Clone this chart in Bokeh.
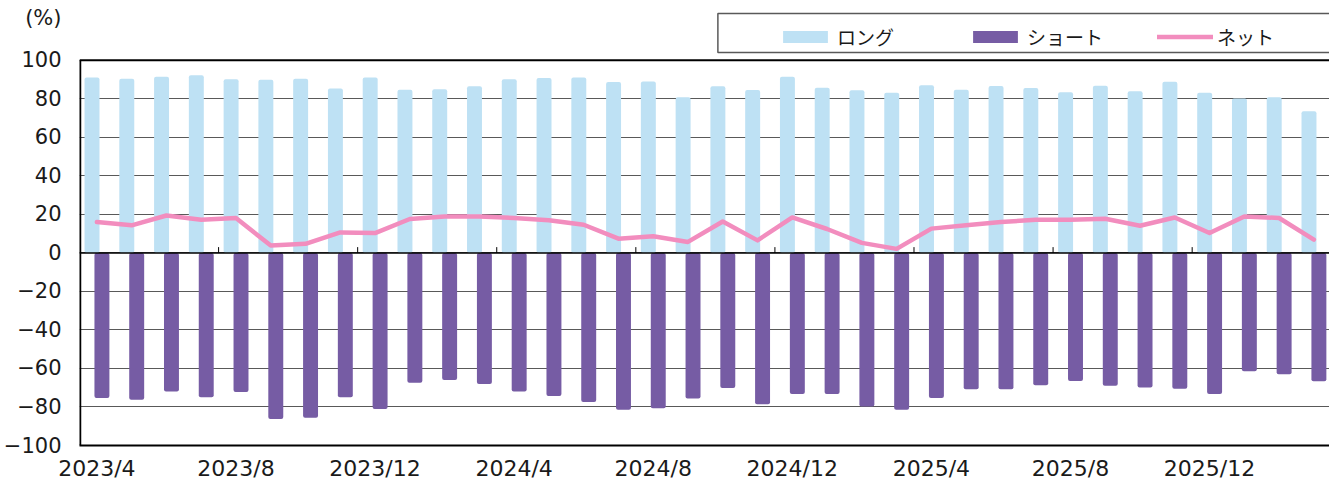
import numpy as np
from bokeh.plotting import figure
from bokeh.models import (ColumnDataSource, Range1d, FixedTicker, Span, Legend,
                          LegendItem, BoxAnnotation)
from bokeh.transform import dodge
from bokeh.embed import file_html
from bokeh.resources import INLINE

months = ["2023/4", "2023/5", "2023/6", "2023/7", "2023/8", "2023/9", "2023/10", "2023/11",
          "2023/12", "2024/1", "2024/2", "2024/3", "2024/4", "2024/5", "2024/6", "2024/7",
          "2024/8", "2024/9", "2024/10", "2024/11", "2024/12", "2025/1", "2025/2", "2025/3",
          "2025/4", "2025/5", "2025/6", "2025/7", "2025/8", "2025/9", "2025/10", "2025/11",
          "2025/12", "2026/1", "2026/2", "2026/3"]
long_pct = [91.1, 90.4, 91.5, 92.2, 90.1, 89.9, 90.4, 85.4, 91.1, 84.7, 84.9, 86.5,
            90.1, 90.8, 91.1, 88.7, 89.0, 80.8, 86.5, 84.6, 91.5, 85.8, 84.4, 83.2,
            87.0, 84.7, 86.6, 85.6, 83.4, 86.8, 83.9, 88.9, 83.2, 80.1, 80.8, 73.5]
short_pct = [-75.3, -76.2, -71.9, -74.9, -72.2, -86.3, -85.6, -74.9, -81.1, -67.4, -66.0, -68.1,
             -71.9, -74.3, -77.4, -81.5, -80.6, -75.6, -70.1, -78.6, -73.2, -73.2, -79.8, -81.5,
             -75.3, -70.8, -70.8, -68.7, -66.5, -69.0, -69.9, -70.5, -73.2, -61.5, -63.0, -66.7]
net_pct = [16.0, 14.3, 19.4, 17.2, 18.1, 3.8, 4.7, 10.6, 10.3, 17.6, 18.9, 18.9,
           18.1, 16.9, 14.6, 7.4, 8.6, 5.7, 16.3, 6.5, 18.4, 12.4, 5.2, 2.1,
           12.6, 14.3, 16.0, 17.2, 17.2, 17.7, 14.1, 18.4, 10.3, 18.9, 18.1, 6.9]
series_names = ["ロング", "ショート", "ネット"]
y_ticks = [-100, -80, -60, -40, -20, 0, 20, 40, 60, 80, 100]
unit_label = "(%)"
label_every = 4

FONT = "Noto Sans CJK JP"
NUM_FONT = "DejaVu Sans"
LONG_C = "#BEE1F4"
SHORT_C = "#765CA4"
NET_C = "#F28DBE"
TXT = "#1a1a1a"

n = len(months)
xs = [i + 0.5 for i in range(n)]
src = ColumnDataSource(dict(x=xs, month=months, long=long_pct, short=short_pct, net=net_pct))

# frame reaches up to the legend row; the value scale stays -100..100 below it
Y_TOP = 127.4
UNIT_POS = 122.0
X_END = 35.95

p = figure(width=1329, height=483, output_backend="svg", toolbar_location=None,
           x_range=Range1d(0, X_END), y_range=Range1d(y_ticks[0], Y_TOP),
           min_border_left=78, min_border_right=0, min_border_top=7, min_border_bottom=36)
p.outline_line_color = None

r_long = p.vbar(x=dodge("x", -0.14), top="long", bottom=0, width=0.43, source=src,
                fill_color=LONG_C, line_color=None, border_radius=2)
r_short = p.vbar(x=dodge("x", 0.145), top=0, bottom="short", width=0.43, source=src,
                 fill_color=SHORT_C, line_color=None, border_radius=2)
r_net = p.line("x", "net", source=src, line_color=NET_C, line_width=4.5,
               line_join="round", line_cap="round")

bounds = list(range(label_every, n, label_every))
p.segment(x0=bounds, y0=[0] * len(bounds), x1=bounds, y1=[3] * len(bounds),
          line_color="black", line_width=1)

# left axis line only over the value scale
p.segment(x0=[p.x_range.start], y0=[y_ticks[0]], x1=[p.x_range.start], y1=[y_ticks[-1]],
          line_color="black", line_width=3.5)

p.add_layout(Span(location=0, dimension="width", line_color="black", line_width=1.5))
p.add_layout(Span(location=y_ticks[-1], dimension="width", line_color="black", line_width=2))

# legend frame (runs off the right edge, as in the original)
p.add_layout(BoxAnnotation(left=18.36, right=X_END + 2, bottom=104.1, top=124.3,
                           fill_alpha=0, line_color="#595959", line_width=1.5,
                           line_alpha=1))

tick_pos = [xs[i] for i in range(0, n, label_every)]
p.xaxis.ticker = FixedTicker(ticks=tick_pos)
p.xaxis.major_label_overrides = {xs[i]: months[i] for i in range(0, n, label_every)}
p.xaxis.major_tick_line_color = None
p.xaxis.minor_tick_line_color = None
p.xaxis.major_tick_out = 0
p.xaxis.minor_tick_out = 0
p.xaxis.axis_line_color = "black"
p.xaxis.axis_line_width = 2
p.xaxis.major_label_text_font = NUM_FONT
p.xaxis.major_label_text_font_size = "22px"
p.xaxis.major_label_text_color = TXT
p.xaxis.major_label_standoff = 10

p.yaxis.ticker = FixedTicker(ticks=y_ticks + [UNIT_POS])
p.yaxis.major_label_overrides = {UNIT_POS: unit_label}
p.yaxis.major_tick_line_color = None
p.yaxis.minor_tick_line_color = None
p.yaxis.major_tick_out = 0
p.yaxis.minor_tick_out = 0
p.yaxis.axis_line_color = None
p.yaxis.major_label_text_font = NUM_FONT
p.yaxis.major_label_text_font_size = "21px"
p.yaxis.major_label_text_color = TXT
p.yaxis.major_label_standoff = 18

p.xgrid.grid_line_color = None
p.ygrid.ticker = FixedTicker(ticks=y_ticks)
p.ygrid.grid_line_color = "#595959"
p.ygrid.grid_line_width = 1

legend = Legend(items=[LegendItem(label=series_names[0], renderers=[r_long]),
                       LegendItem(label=series_names[1], renderers=[r_short]),
                       LegendItem(label=series_names[2], renderers=[r_net])],
                orientation="horizontal", location=(698, 395),
                glyph_width=56, glyph_height=15, label_standoff=4, label_width=120,
                spacing=10, padding=6, margin=0,
                label_text_font=FONT, label_text_font_size="19px", label_text_color=TXT,
                border_line_color=None, background_fill_alpha=0)
p.add_layout(legend)

open("out.html", "w").write(file_html(p, INLINE))
